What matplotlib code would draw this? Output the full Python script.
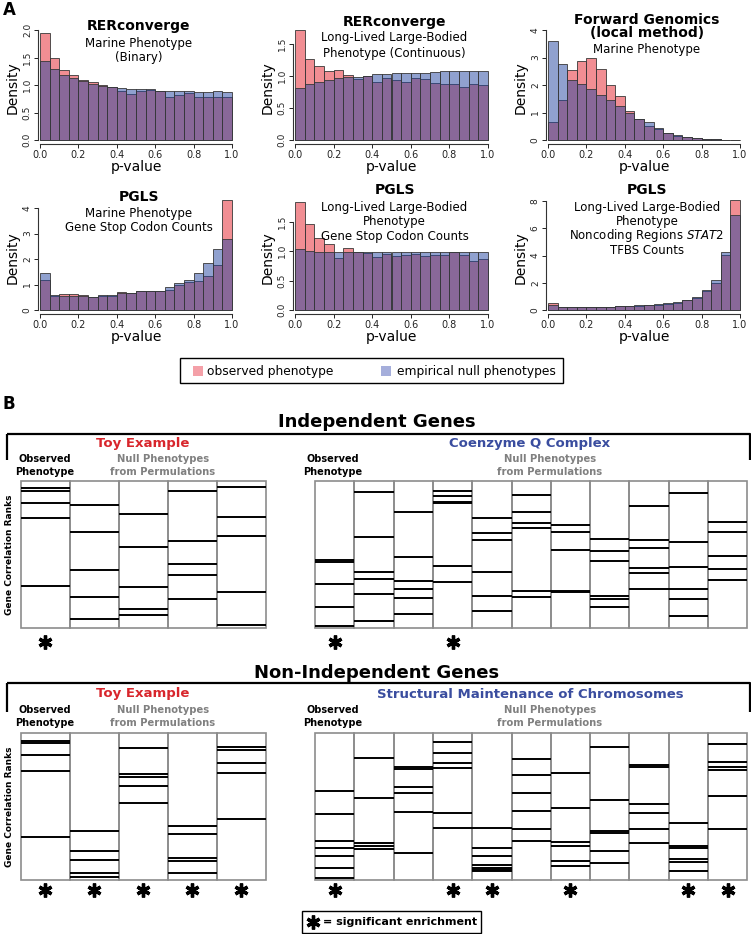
import matplotlib
matplotlib.use("Agg")
import matplotlib.pyplot as plt
from matplotlib.patches import Rectangle
import numpy as np

# ---------------- DATA ----------------
bin_edges = np.linspace(0, 1, 21)
xtick_vals = [0.0, 0.2, 0.4, 0.6, 0.8, 1.0]

rer_marine_obs = [1.94, 1.49, 1.28, 1.18, 1.09, 1.05, 1.00, 0.96, 0.90, 0.84, 0.90, 0.91, 0.90, 0.79, 0.81, 0.85, 0.78, 0.78, 0.78, 0.78]
rer_marine_null = [1.44, 1.29, 1.18, 1.12, 1.07, 1.02, 0.99, 0.97, 0.95, 0.93, 0.92, 0.92, 0.90, 0.90, 0.90, 0.90, 0.88, 0.88, 0.89, 0.88]

rer_lq_obs = [1.715, 1.27, 1.16, 1.08, 1.085, 1.02, 0.95, 1.00, 0.91, 0.97, 0.935, 0.90, 0.96, 0.946, 0.89, 0.88, 0.88, 0.83, 0.88, 0.865]
rer_lq_null = [0.81, 0.876, 0.91, 0.935, 0.96, 0.98, 0.99, 1.00, 1.03, 1.03, 1.04, 1.04, 1.05, 1.05, 1.06, 1.07, 1.07, 1.07, 1.07, 1.07]

fg_marine_obs = [0.66, 1.47, 2.53, 2.89, 2.99, 2.59, 2.01, 1.60, 1.06, 0.78, 0.52, 0.39, 0.24, 0.16, 0.10, 0.06, 0.04, 0.02, 0.01, 0.005]
fg_marine_null = [3.59, 2.75, 2.20, 2.05, 1.87, 1.65, 1.45, 1.23, 0.99, 0.76, 0.64, 0.45, 0.27, 0.18, 0.12, 0.07, 0.04, 0.02, 0.01, 0.005]

pgls_marine_obs = [1.16, 0.55, 0.63, 0.63, 0.60, 0.52, 0.55, 0.55, 0.72, 0.65, 0.76, 0.73, 0.73, 0.80, 1.00, 1.09, 1.13, 1.32, 1.76, 4.32]
pgls_marine_null = [1.47, 0.58, 0.56, 0.55, 0.55, 0.53, 0.57, 0.57, 0.65, 0.68, 0.73, 0.76, 0.76, 0.89, 1.07, 1.16, 1.45, 1.83, 2.40, 2.79]

pgls_lq_obs = [1.83, 1.46, 1.23, 1.13, 0.88, 1.05, 0.98, 0.97, 0.90, 0.96, 0.91, 0.94, 0.95, 0.92, 0.93, 0.94, 0.98, 0.94, 0.83, 0.87]
pgls_lq_null = [1.04, 1.00, 0.99, 0.99, 0.99, 0.99, 0.98, 0.99, 0.99, 0.98, 0.99, 0.99, 0.99, 0.99, 0.99, 0.99, 0.99, 0.98, 0.99, 0.99]

pgls_tfbs_obs = [0.55, 0.20, 0.22, 0.20, 0.22, 0.22, 0.25, 0.30, 0.30, 0.30, 0.35, 0.40, 0.45, 0.55, 0.70, 0.90, 1.40, 2.00, 4.04, 8.09]
pgls_tfbs_null = [0.35, 0.20, 0.20, 0.22, 0.22, 0.25, 0.25, 0.30, 0.32, 0.35, 0.38, 0.42, 0.50, 0.60, 0.75, 0.98, 1.47, 2.20, 4.29, 6.99]

# Panel B: gene correlation rank positions (0 = top rank, 100 = bottom), one list per column
toy_independent_ranks = [
    [4.5, 6.8, 14.7, 25.4, 71.2],
    [16.3, 34.5, 60.5, 78.7, 94.2],
    [22.7, 44.7, 72.3, 87.3, 91.2],
    [6.6, 40.8, 56.3, 64.0, 80.3],
    [4.3, 24.5, 37.2, 75.7, 98.0],
]
coq_ranks = [
    [53.9, 55.1, 70.4, 85.9, 98.3],
    [7.6, 38.2, 62.0, 67.0, 77.2, 94.9],
    [21.2, 51.6, 67.7, 73.8, 79.5, 90.3],
    [6.9, 9.9, 14.1, 15.0, 57.5, 69.0],
    [25.5, 35.7, 39.8, 61.8, 78.4, 88.1],
    [9.7, 21.0, 28.4, 31.8, 75.0, 79.0],
    [30.1, 34.6, 46.6, 74.6, 75.8],
    [39.3, 47.3, 54.6, 77.9, 80.6, 85.6],
    [17.1, 40.3, 45.9, 59.0, 62.4, 73.3],
    [8.0, 41.6, 58.4, 73.3, 80.1, 91.5],
    [27.8, 34.6, 51.2, 59.7, 67.5],
]
toy_nonindependent_ranks = [
    [5.2, 7.0, 15.0, 25.6, 71.0],
    [66.5, 80.5, 86.4, 95.0, 97.8],
    [10.4, 28.1, 30.1, 35.9, 47.4],
    [63.6, 68.8, 85.2, 86.9, 95.0],
    [9.7, 11.6, 20.6, 27.0, 58.7],
]
smc_ranks = [
    [39.5, 55.1, 73.3, 78.4, 83.7, 91.8, 98.6],
    [16.8, 44.2, 74.5, 76.9, 79.1],
    [22.9, 24.7, 36.7, 41.0, 53.5, 81.8],
    [5.9, 13.4, 20.6, 24.0, 54.4, 64.6],
    [64.3, 78.4, 83.9, 90.1, 91.5, 92.9, 94.2],
    [17.9, 28.6, 40.5, 53.4, 65.3, 73.5],
    [27.4, 51.2, 73.9, 76.7, 87.4, 90.5],
    [9.3, 45.4, 67.0, 68.2, 80.3, 88.2],
    [21.8, 23.3, 48.3, 54.2, 65.4, 74.6],
    [61.0, 76.7, 78.4, 85.9, 87.6, 93.9],
    [7.7, 19.5, 22.9, 25.2, 42.9, 65.4],
]
toy_independent_signif = [0]
coq_signif = [0, 3]
toy_nonindependent_signif = [0, 1, 2, 3, 4]
smc_signif = [0, 3, 4, 6, 9, 10]

# ---------------- STYLE ----------------
RED = (228/255, 30/255, 40/255, 0.5)
BLUE = (35/255, 68/255, 160/255, 0.5)
EDGE = (0.22, 0.22, 0.22)
LEG_RED = "#F4A0A8"
LEG_BLUE = "#A5AEDB"
TITLE_RED = "#D8262C"
TITLE_BLUE = "#3A4D9F"
GRAY_TXT = "#808080"
BORDER = "#8C8C8C"

plt.rcParams["font.family"] = ["DejaVu Sans"]

W, H = 751, 934
fig = plt.figure(figsize=(W / 100, H / 100), dpi=100)
fig.patch.set_facecolor("white")

# overlay in pixel coordinates for brackets / boxes
ov = fig.add_axes([0, 0, 1, 1], zorder=0)
ov.set_xlim(0, W)
ov.set_ylim(H, 0)
ov.axis("off")


def px_axes(x0, y0, x1, y1, **kw):
    return fig.add_axes([x0 / W, 1 - y1 / H, (x1 - x0) / W, (y1 - y0) / H], **kw)


def ftext(x, y, s, **kw):
    kw.setdefault("ha", "center")
    kw.setdefault("va", "center")
    fig.text(x / W, 1 - y / H, s, **kw)


# ---------------- PANEL A ----------------
col_x = [(40, 232), (295, 488), (548, 740)]
row_y = [(140, 30), (310, 200)]


def hist_panel(col, row, obs, null, top, yticks, ylabels, titles):
    p0, p1 = col_x[col]
    base, toppx = row_y[row]
    xpad = 0.012
    ypad = 0.04 * top
    sx = p1 - p0
    sy = (base - toppx) / top
    ax = px_axes(p0 - xpad * sx, toppx - ypad * sy, p1 + xpad * sx, base + ypad * sy, zorder=2)
    ax.set_xlim(-xpad, 1 + xpad)
    ax.set_ylim(-ypad, top + ypad)
    ax.patch.set_alpha(0)
    ax.bar(bin_edges[:-1], obs, width=0.05, align="edge", color=RED, edgecolor=EDGE, lw=0.6)
    ax.bar(bin_edges[:-1], null, width=0.05, align="edge", color=BLUE, edgecolor=EDGE, lw=0.6)
    for s in ["top", "right"]:
        ax.spines[s].set_visible(False)
    ax.spines["bottom"].set_bounds(0, 1)
    ax.spines["left"].set_bounds(yticks[0], yticks[-1])
    for s in ["bottom", "left"]:
        ax.spines[s].set_linewidth(0.8)
        ax.spines[s].set_color("#333333")
    ax.set_xticks(xtick_vals)
    ax.set_xticklabels(["%.1f" % v for v in xtick_vals], fontsize=7)
    ax.set_yticks(yticks)
    ax.set_yticklabels(ylabels, fontsize=6.5, rotation=90, va="center")
    ax.tick_params(length=3, width=0.7, pad=1.2, colors="#222222")
    cx = (p0 + p1) / 2
    ftext(cx, base + 27, "p-value", fontsize=10)
    ftext(p0 - 27, (base + toppx) / 2 + 3, "Density", fontsize=10, rotation=90)
    for (txt, y, bold, size) in titles:
        ftext(cx + 3, y, txt, fontsize=size, fontweight="bold" if bold else "normal")
    return ax


hist_panel(0, 0, rer_marine_obs, rer_marine_null, 2.0,
           [0, 0.5, 1.0, 1.5, 2.0], ["0.0", "0.5", "1.0", "1.5", "2.0"],
           [("RERconverge", 26, True, 10), ("Marine Phenotype", 43, False, 8.5), ("(Binary)", 58, False, 8.5)])
hist_panel(1, 0, rer_lq_obs, rer_lq_null, 1.715,
           [0, 0.5, 1.0, 1.5], ["0.0", "0.5", "1.0", "1.5"],
           [("RERconverge", 22, True, 10), ("Long-Lived Large-Bodied", 38, False, 8.5),
            ("Phenotype (Continuous)", 53, False, 8.5)])
hist_panel(2, 0, fg_marine_obs, fg_marine_null, 4.0,
           [0, 1, 2, 3, 4], ["0", "1", "2", "3", "4"],
           [("Forward Genomics", 20, True, 10), ("(local method)", 33, True, 10),
            ("Marine Phenotype", 49, False, 8.5)])
hist_panel(0, 1, pgls_marine_obs, pgls_marine_null, 4.32,
           [0, 1, 2, 3, 4], ["0", "1", "2", "3", "4"],
           [("PGLS", 197, True, 10), ("Marine Phenotype", 214, False, 8.5),
            ("Gene Stop Codon Counts", 227, False, 8.5)])
hist_panel(1, 1, pgls_lq_obs, pgls_lq_null, 1.87,
           [0, 0.5, 1.0, 1.5], ["0.0", "0.5", "1.0", "1.5"],
           [("PGLS", 190, True, 10), ("Long-Lived Large-Bodied", 208, False, 8.5),
            ("Phenotype", 222, False, 8.5), ("Gene Stop Codon Counts", 237, False, 8.5)])
hist_panel(2, 1, pgls_tfbs_obs, pgls_tfbs_null, 8.09,
           [0, 2, 4, 6, 8], ["0", "2", "4", "6", "8"],
           [("PGLS", 190, True, 10), ("Long-Lived Large-Bodied", 207, False, 8.5),
            ("Phenotype", 221, False, 8.5), (r"Noncoding Regions $\mathit{STAT2}$", 235, False, 8.5),
            ("TFBS Counts", 250, False, 8.5)])

ftext(9, 10, "A", fontsize=12, fontweight="bold")

# legend A
ov.add_patch(Rectangle((180, 358), 383, 25, fill=False, edgecolor="black", lw=1))
ov.add_patch(Rectangle((193, 366), 10, 10, facecolor=LEG_RED, edgecolor="none"))
ov.add_patch(Rectangle((381, 366), 10, 10, facecolor=LEG_BLUE, edgecolor="none"))
ftext(207, 371, "observed phenotype", fontsize=8.8, ha="left")
ftext(397, 371, "empirical null phenotypes", fontsize=8.8, ha="left")

# ---------------- PANEL B ----------------
ftext(9, 404, "B", fontsize=12, fontweight="bold")

toy_x = (20.7, 265.7)
big_x = (315, 747.3)


def rank_grid(x0, x1, y0, y1, ranks, signif, star_px):
    n = len(ranks)
    ax = px_axes(x0, y0, x1, y1, zorder=2)
    ax.set_xlim(0, n)
    ax.set_ylim(100, 0)
    ax.axis("off")
    for i, col in enumerate(ranks):
        ax.hlines(col, i, i + 1, color="black", lw=1.4, clip_on=False)
        ax.add_patch(Rectangle((i, 0), 1, 100, fill=False, edgecolor=BORDER, lw=1.2, clip_on=False))
    star_y = 100 + star_px / (y1 - y0) * 100
    ax.plot(np.array(signif) + 0.5, [star_y] * len(signif), linestyle="none",
            marker=(6, 2, 0), markersize=10, markeredgewidth=2.4, color="black", clip_on=False)


def section(ytitle, ybr, yvert, ysub, ygrid, title, toy_ranks, toy_sig, big_ranks, big_sig, big_name, star_px):
    ftext(377, ytitle, title, fontsize=13, fontweight="bold")
    ov.plot([7, 750, 750], [yvert, yvert, ybr], color="black", lw=1.6, solid_capstyle="butt")
    ov.plot([7, 7], [yvert, ybr], color="black", lw=1.6, solid_capstyle="butt")
    ftext(143, ysub, "Toy Example", fontsize=9.5, fontweight="bold", color=TITLE_RED)
    ftext(530, ysub, big_name, fontsize=9.5, fontweight="bold", color=TITLE_BLUE)
    for xo in (45, 333):
        ftext(xo, ysub + 16, "Observed", fontsize=7, fontweight="bold")
        ftext(xo, ysub + 29, "Phenotype", fontsize=7, fontweight="bold")
    for xn in (163, 550):
        ftext(xn, ysub + 16, "Null Phenotypes", fontsize=7.2, fontweight="bold", color=GRAY_TXT)
        ftext(xn, ysub + 29, "from Permulations", fontsize=7.2, fontweight="bold", color=GRAY_TXT)
    gy0, gy1 = ygrid
    ftext(10, (gy0 + gy1) / 2, "Gene Correlation Ranks", fontsize=6.5, fontweight="bold", rotation=90)
    rank_grid(toy_x[0], toy_x[1], gy0, gy1, toy_ranks, toy_sig, star_px)
    rank_grid(big_x[0], big_x[1], gy0, gy1, big_ranks, big_sig, star_px)


section(422, 460, 434, 443, (481, 628), "Independent Genes",
        toy_independent_ranks, toy_independent_signif, coq_ranks, coq_signif,
        "Coenzyme Q Complex", 14)
section(673, 712, 683, 694, (733, 880), "Non-Independent Genes",
        toy_nonindependent_ranks, toy_nonindependent_signif, smc_ranks, smc_signif,
        "Structural Maintenance of Chromosomes", 10)

# bottom legend
ov.add_patch(Rectangle((302, 911), 179, 22, fill=False, edgecolor="black", lw=1))
ov.plot([313], [922], linestyle="none", marker=(6, 2, 0), markersize=10,
        markeredgewidth=2.4, color="black")
ftext(323, 922, "= significant enrichment", fontsize=8, fontweight="bold", ha="left",
      family=["Liberation Sans Narrow", "DejaVu Sans"])

fig.savefig("out.png", dpi=100, facecolor="white")
